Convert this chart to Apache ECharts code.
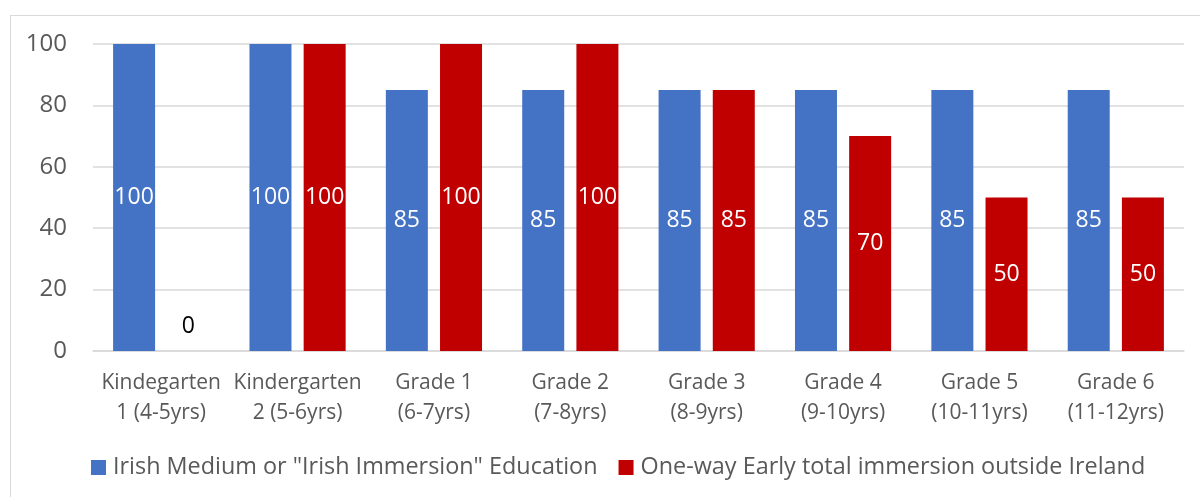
<!DOCTYPE html>
<html>
<head>
<meta charset="utf-8">
<script src="https://cdn.jsdelivr.net/npm/echarts@6/dist/echarts.min.js"></script>
<style>
  html, body { margin: 0; padding: 0; background: #fff; }
  #frame { position: absolute; left: 10px; top: 15px; width: 1200px; height: 500px;
           border: 1.5px solid #d9d9d9; box-sizing: border-box; }
  #chart { position: absolute; left: 0; top: 0; width: 1200px; height: 497px; }
</style>
</head>
<body>
<div id="frame"></div>
<div id="chart"></div>
<script>
const categories = [
  'Kindegarten\n1 (4-5yrs)',
  'Kindergarten\n2 (5-6yrs)',
  'Grade 1\n(6-7yrs)',
  'Grade 2\n(7-8yrs)',
  'Grade 3\n(8-9yrs)',
  'Grade 4\n(9-10yrs)',
  'Grade 5\n(10-11yrs)',
  'Grade 6\n(11-12yrs)'
];
const irishMedium = [100, 100, 85, 85, 85, 85, 85, 85];
const oneWayImmersion = [0, 100, 100, 100, 85, 70, 50, 50];
const seriesNames = ['Irish Medium or "Irish Immersion" Education', 'One-way Early total immersion outside Ireland'];

const FONT = 'Open Sans';
const GREY = '#595959';

const labelStyle = {
  show: true, position: 'inside', color: '#ffffff', fontFamily: FONT, fontSize: 23
};

// zero-height bars get their value written just above the axis in black
function withZeroLabels(values) {
  return values.map(v => v === 0
    ? { value: v, label: { position: 'top', distance: 13, color: '#000000' } }
    : v);
}

const chart = echarts.init(document.getElementById('chart'), null, { renderer: 'canvas' });
chart.setOption({
  animation: false,
  textStyle: { fontFamily: FONT },
  grid: { left: 93, right: 16, top: 44, bottom: 146 },
  legend: {
    left: 91, bottom: 18, padding: 0,
    itemWidth: 15, itemHeight: 15, itemGap: 21,
    icon: 'rect',
    textStyle: { color: GREY, fontFamily: FONT, fontSize: 23.4, padding: [0, 0, 0, 2] },
    data: seriesNames
  },
  xAxis: {
    type: 'category',
    data: categories,
    axisLine: { show: true, lineStyle: { color: '#d9d9d9', width: 1.5 } },
    axisTick: { show: false },
    axisLabel: { color: GREY, fontFamily: FONT, fontSize: 21, lineHeight: 30, margin: 17, interval: 0 }
  },
  yAxis: {
    type: 'value', min: 0, max: 100, interval: 20,
    axisLine: { show: false },
    axisTick: { show: false },
    splitLine: { lineStyle: { color: '#d9d9d9', width: 1.5 } },
    axisLabel: { color: GREY, fontFamily: FONT, fontSize: 24, margin: 26 }
  },
  series: [
    {
      name: seriesNames[0], type: 'bar', data: withZeroLabels(irishMedium),
      barWidth: 42, barGap: '29%',
      itemStyle: { color: '#4472C4' },
      label: labelStyle
    },
    {
      name: seriesNames[1], type: 'bar', data: withZeroLabels(oneWayImmersion),
      barWidth: 42,
      itemStyle: { color: '#C00000' },
      label: labelStyle
    }
  ]
});
</script>
</body>
</html>
